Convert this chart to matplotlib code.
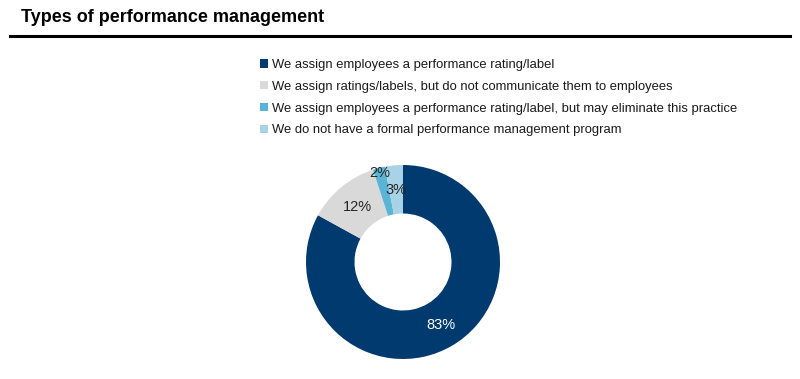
import matplotlib
matplotlib.use("Agg")
import matplotlib.pyplot as plt
import numpy as np
from matplotlib.lines import Line2D

plt.rcParams['font.family'] = ['Liberation Sans', 'DejaVu Sans']

title = "Types of performance management"
categories = [
    "We assign employees a performance rating/label",
    "We assign ratings/labels, but do not communicate them to employees",
    "We assign employees a performance rating/label, but may eliminate this practice",
    "We do not have a formal performance management program",
]
values = [83, 12, 2, 3]
pct_labels = ["83%", "12%", "2%", "3%"]
colors = ["#003a6e", "#d9d9d9", "#5ab4d6", "#a8d3e6"]
label_colors = ["white", "#262626", "#262626", "#262626"]
label_radius = [0.76, 0.73, 0.95, 0.75]

W, H = 800, 379
fig = plt.figure(figsize=(W / 100, H / 100), dpi=100)

cx, cy, R = 403, 262, 97
ax = fig.add_axes([(cx - R) / W, (H - cy - R) / H, 2 * R / W, 2 * R / H])
wedges, _ = ax.pie(values, colors=colors, startangle=90, counterclock=False,
                   radius=1.0, wedgeprops=dict(width=0.5, edgecolor='none'))
ax.set_xlim(-1, 1)
ax.set_ylim(-1, 1)
ax.set_aspect('equal')
ax.axis('off')

for w, lab, col, r in zip(wedges, pct_labels, label_colors, label_radius):
    ang = np.deg2rad((w.theta1 + w.theta2) / 2)
    ax.text(r * np.cos(ang), r * np.sin(ang), lab, ha='center', va='center',
            fontsize=10.5, color=col)

# title and rule
fig.text(21 / W, 1 - 17 / H, title, fontsize=13, fontweight='bold',
         ha='left', va='center', color='black')
fig.add_artist(Line2D([10 / W, 790 / W], [1 - 36 / H, 1 - 36 / H],
                      color='black', linewidth=2.2, transform=fig.transFigure))

leg = fig.legend(wedges, categories, loc='upper left',
                 bbox_to_anchor=(260 / W, 1 - 59 / H), frameon=False,
                 fontsize=9.4, handlelength=0.6, handleheight=0.6,
                 handletextpad=0.3, labelspacing=0.75, borderpad=0,
                 borderaxespad=0)
for t in leg.get_texts():
    t.set_color('#1a1a1a')

fig.savefig("out.png", dpi=100)
